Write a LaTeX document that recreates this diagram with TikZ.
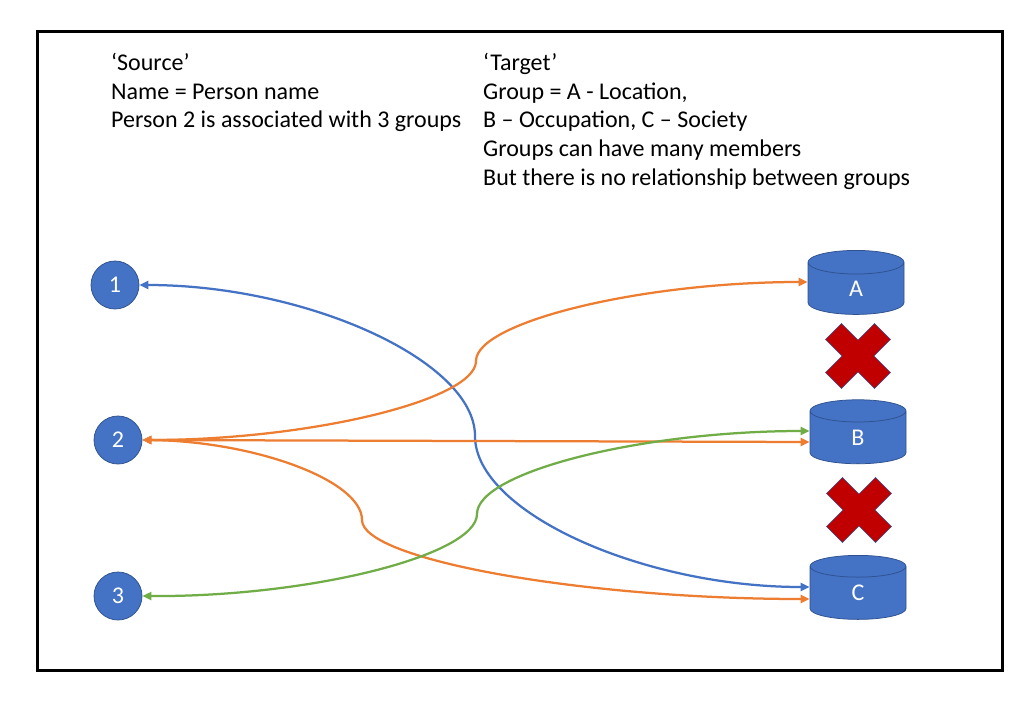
\documentclass[tikz,border=0pt]{standalone}
\usepackage{fontspec}
\setmainfont{Carlito}
\usetikzlibrary{arrows.meta,shapes.geometric}
\definecolor{nodeblue}{HTML}{4472C4}
\definecolor{edgeblue}{HTML}{2F528F}
\definecolor{linkblue}{HTML}{4472C4}
\definecolor{linkorange}{HTML}{ED7D31}
\definecolor{linkgreen}{HTML}{70AD47}
\definecolor{crossred}{HTML}{C00000}

\tikzset{
  person/.style={circle,fill=nodeblue,draw=edgeblue,line width=0.75pt,minimum size=48pt,inner sep=0pt,text=white,font=\fontsize{24}{28}\selectfont},
  group/.style={cylinder,shape border rotate=90,aspect=1.7,fill=nodeblue,draw=edgeblue,line width=0.75pt,minimum height=64pt,minimum width=96pt,inner sep=0pt,text=white,font=\fontsize{24}{28}\selectfont},
  link/.style={{Triangle[length=9pt,width=8pt]}-{Triangle[length=9pt,width=8pt]},line width=2.25pt},
  notes/.style={align=left,anchor=north west,inner sep=0pt,font=\fontsize{24}{28.7}\selectfont}
}

\begin{document}
\begin{tikzpicture}[x=1pt,y=-1pt]
    \useasboundingbox[fill=white] (0,0) rectangle (1034,713);
    \draw[line width=3pt] (37,31) rectangle (1002,670);

    % descriptions
    \node[notes] (source) at (111,53) {‘Source’\\Name = Person name\\Person 2 is associated with 3 groups};
    \node[notes] (target) at (483,53) {‘Target’\\Group = A - Location,\\B – Occupation, C – Society\\Groups can have many members\\But there is no relationship between groups};

    % persons and groups
    \node[person] (p1) at (115,285) {1};
    \node[person] (p2) at (118,440) {2};
    \node[person] (p3) at (118,596) {3};
    \node[group] (A) at (856,288.5) {A};
    \node[group] (B) at (858,437.5) {B};
    \node[group] (C) at (858,593) {C};

    % no relationship between groups
    \filldraw[crossred,draw=edgeblue,line width=0.5pt,shift={(858,356)},rotate=45] (-11.3,-34.7) -- (11.3,-34.7) -- (11.3,-11.3) -- (34.7,-11.3) -- (34.7,11.3) -- (11.3,11.3) -- (11.3,34.7) -- (-11.3,34.7) -- (-11.3,11.3) -- (-34.7,11.3) -- (-34.7,-11.3) -- (-11.3,-11.3) -- cycle;
    \filldraw[crossred,draw=edgeblue,line width=0.5pt,shift={(859,510)},rotate=45] (-11.3,-34.7) -- (11.3,-34.7) -- (11.3,-11.3) -- (34.7,-11.3) -- (34.7,11.3) -- (11.3,11.3) -- (11.3,34.7) -- (-11.3,34.7) -- (-11.3,11.3) -- (-34.7,11.3) -- (-34.7,-11.3) -- (-11.3,-11.3) -- cycle;

    % links
    \draw[link,linkblue] (p1.east) .. controls (307,285) and (475,361) .. (475,436) .. controls (475,512) and (642,587) .. ([yshift=6pt]C.west);
    \draw[link,linkorange] (p2.east) .. controls (310,440) and (476,400) .. (476,361) .. controls (476,322) and (642,282) .. ([yshift=6.5pt]A.west);
    \draw[link,linkorange] (p2.east) -- ([yshift=-4.5pt]B.west);
    \draw[link,linkorange] (p2.east) .. controls (253,441) and (362,480) .. (362,520) .. controls (362,560) and (585,599) .. ([yshift=-6pt]C.west);
    \draw[link,linkgreen] (p3.east) .. controls (311,597) and (477,555) .. (477,514) .. controls (477,472) and (642,431) .. ([yshift=6.5pt]B.west);
\end{tikzpicture}
\end{document}
